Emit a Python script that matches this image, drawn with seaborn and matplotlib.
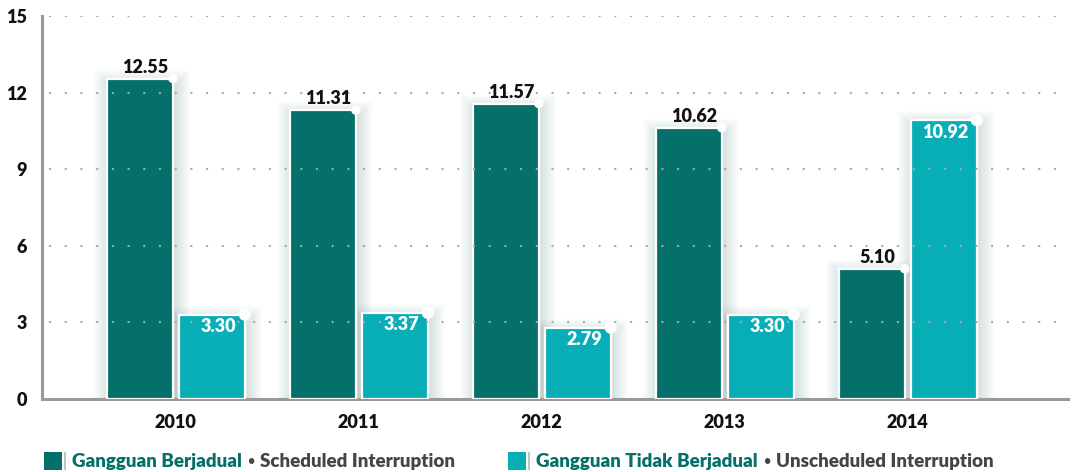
import matplotlib
matplotlib.use("Agg")
import matplotlib.pyplot as plt
import pandas as pd
import seaborn as sns
from matplotlib.patches import Rectangle

YEARS = ["2010", "2011", "2012", "2013", "2014"]
SCHEDULED = [12.55, 11.31, 11.57, 10.62, 5.10]
UNSCHEDULED = [3.30, 3.37, 2.79, 3.30, 10.92]
SERIES = ["Scheduled", "Unscheduled"]
LEGEND_ID = ["Gangguan Berjadual", "Gangguan Tidak Berjadual"]
LEGEND_EN = ["Scheduled Interruption", "Unscheduled Interruption"]
Y_TICKS = [0, 3, 6, 9, 12, 15]

DARK = "#056f6a"
LIGHT = "#08aeb6"
GRAY_TEXT = "#454545"
FONT = ["Lato", "DejaVu Sans"]

W, H = 1082, 472


def main() -> None:
    sns.set_theme(style="white")
    plt.rcParams["font.family"] = FONT
    plt.rcParams["font.weight"] = "bold"

    df = pd.DataFrame(
        {
            "year": YEARS * 2,
            "value": SCHEDULED + UNSCHEDULED,
            "series": [SERIES[0]] * len(YEARS) + [SERIES[1]] * len(YEARS),
        }
    )

    fig = plt.figure(figsize=(W / 100, H / 100), dpi=100)
    ax = fig.add_axes([42 / W, (H - 399) / H, (1068 - 42) / W, (399 - 16) / H])

    sns.barplot(
        data=df, x="year", y="value", hue="series",
        palette=[DARK, LIGHT], saturation=1, width=0.787, gap=0.085,
        edgecolor="white", linewidth=1.6, legend=False, ax=ax, zorder=3,
    )

    ax.set_xlim(-0.732, 4.876)
    ax.set_ylim(0, 15)
    ax.set_yticks(Y_TICKS)
    ax.set_xlabel("")
    ax.set_ylabel("")

    # soft glow behind the bars
    px_x = 1 / 183
    px_y = 1 / 25.53
    for bar in list(ax.patches):
        x0, w, h = bar.get_x(), bar.get_width(), bar.get_height()
        for pad in range(1, 16, 1):
            ax.add_patch(Rectangle(
                (x0 - pad * px_x + 2 * px_x, 0), w + 2 * pad * px_x,
                h + pad * px_y - 6 * px_y,
                facecolor="#3d6f70", edgecolor="none", alpha=0.01, zorder=1,
            ))

    # dotted grid drawn over the bars
    for yv in Y_TICKS[1:]:
        ax.axhline(yv, color="#a8a8a8", linewidth=1.7, linestyle=(0, (0.05, 6.6)),
                   dash_capstyle="round", zorder=4, xmin=0.008)

    # labels and white corner dots
    dark_bars, light_bars = ax.containers[0], ax.containers[1]
    for bar, v in zip(dark_bars, SCHEDULED):
        ax.annotate(f"{v:.2f}", (bar.get_x() + bar.get_width() / 2, v),
                    xytext=(4, 2), textcoords="offset points", ha="center", va="bottom",
                    fontsize=13, fontweight="heavy", color="#111111", zorder=6)
    for bar, v in zip(light_bars, UNSCHEDULED):
        ax.annotate(f"{v:.2f}", (bar.get_x() + bar.get_width(), v),
                    xytext=(-6, -2.5), textcoords="offset points", ha="right", va="top",
                    fontsize=13, fontweight="heavy", color="white", zorder=6)
    tops_x = [b.get_x() + b.get_width() for b in list(dark_bars) + list(light_bars)]
    tops_y = SCHEDULED + UNSCHEDULED
    ax.scatter(tops_x, tops_y, s=[45] * 5 + [75] * 5, color="white", zorder=7, linewidths=0)

    for side in ["top", "right"]:
        ax.spines[side].set_visible(False)
    for side in ["left", "bottom"]:
        ax.spines[side].set_color("#9a9a9a")
        ax.spines[side].set_linewidth(2.2)
        ax.spines[side].set_zorder(2)
    ax.tick_params(axis="y", length=0, pad=11, labelsize=13, labelcolor="#111111")
    ax.tick_params(axis="x", length=0, pad=11, labelsize=13, labelcolor="#111111")
    for lbl in ax.get_xticklabels() + ax.get_yticklabels():
        lbl.set_fontweight("heavy")

    # legend
    for sq_x, color, t_id, t_en in [(44, DARK, LEGEND_ID[0], LEGEND_EN[0]),
                                    (508, LIGHT, LEGEND_ID[1], LEGEND_EN[1])]:
        fig.patches.append(Rectangle((sq_x / W, (H - 470) / H), 18 / W, 18 / H,
                                     transform=fig.transFigure, facecolor=color,
                                     edgecolor="none"))
        fig.patches.append(Rectangle(((sq_x + 20) / W, (H - 470) / H), 1.5 / W, 18 / H,
                                     transform=fig.transFigure, facecolor="#c4c4c4",
                                     edgecolor="none"))
        t1 = fig.text((sq_x + 28) / W, (H - 461) / H, t_id, fontsize=13.5,
                      fontweight="heavy", color=DARK, va="center")
        t2 = ax.annotate("\u2022", xy=(1, 0.5), xycoords=t1, xytext=(4, 0),
                         textcoords="offset points", va="center", ha="left",
                         fontsize=9, fontweight="bold", color=GRAY_TEXT,
                         annotation_clip=False)
        ax.annotate(t_en, xy=(1, 0.5), xycoords=t2, xytext=(4, 0),
                    textcoords="offset points", va="center", ha="left",
                    fontsize=13.5, fontweight="heavy", color=GRAY_TEXT,
                    annotation_clip=False)

    fig.savefig("out.png", dpi=100)
    plt.close(fig)


if __name__ == "__main__":
    main()
